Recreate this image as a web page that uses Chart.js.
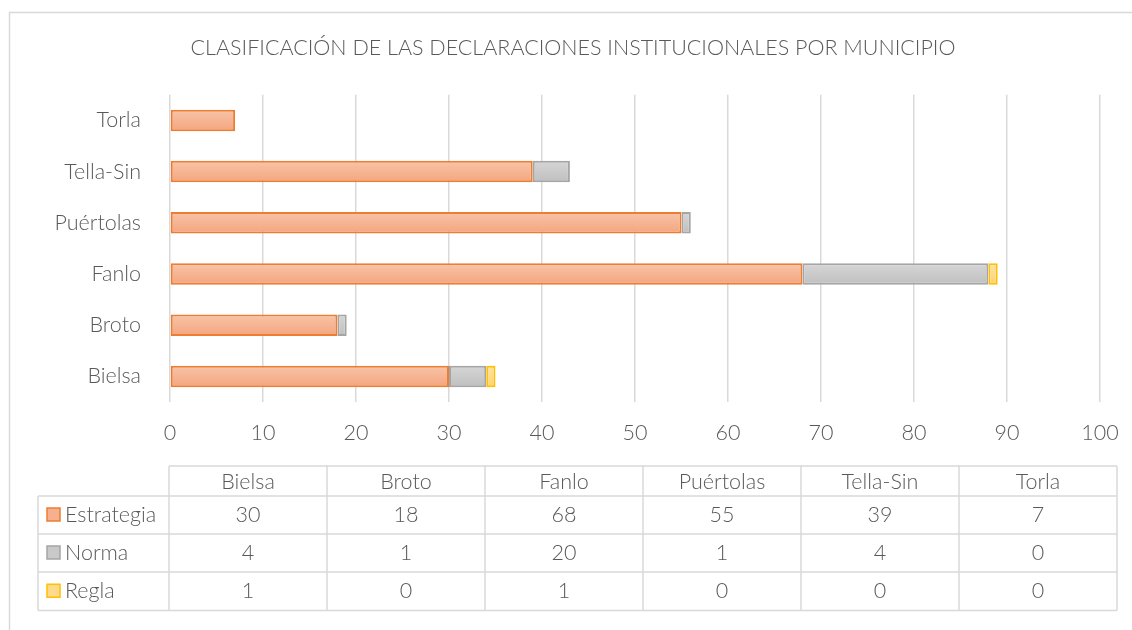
<!DOCTYPE html>
<html>
<head>
<meta charset="utf-8">
<script src="https://cdn.jsdelivr.net/npm/chart.js@4"></script>
<style>
    body { margin: 0; background: #fff; }
    #wrap { width: 1132px; height: 630px; }
</style>
</head>
<body>
<div id="wrap"><canvas id="decl-chart"></canvas></div>
<script>
const municipios = ["Bielsa", "Broto", "Fanlo", "Puértolas", "Tella-Sin", "Torla"];
const estrategia = [30, 18, 68, 55, 39, 7];
const norma = [4, 1, 20, 1, 4, 0];
const regla = [1, 0, 1, 0, 0, 0];
const xTicks = [0, 10, 20, 30, 40, 50, 60, 70, 80, 90, 100];

const FONT = "Lato, 'Open Sans', sans-serif";
const TEXT = "#595959";
const GRID = "#D9D9D9";
const SIZE = 21.5;

// vertical gradient for each bar, placed through the y scale
function barFill(top, bottom) {
    return function (c) {
        const chart = c.chart;
        if (!chart.chartArea || c.dataIndex === undefined || !chart.scales.y) return bottom;
        const y = chart.scales.y.getPixelForValue(c.dataIndex);
        const g = chart.ctx.createLinearGradient(0, y - 11, 0, y + 11);
        g.addColorStop(0, top);
        g.addColorStop(1, bottom);
        return g;
    };
}

const series = [
    { label: "Estrategia", data: estrategia, top: "#F8C5A9", bottom: "#F4A47D", line: "#ED7D31", key: "#F5B08F" },
    { label: "Norma", data: norma, top: "#D6D6D6", bottom: "#BFBFBF", line: "#A5A5A5", key: "#C9C9C9" },
    { label: "Regla", data: regla, top: "#FFE2A3", bottom: "#FFD26E", line: "#FFC000", key: "#FFDA8A" }
];

const frame = {
    id: "frame",
    beforeDraw(chart) {
        const ctx = chart.ctx;
        ctx.save();
        ctx.strokeStyle = GRID;
        ctx.lineWidth = 1.5;
        ctx.beginPath();
        ctx.moveTo(9.5, chart.height + 5);
        ctx.lineTo(9.5, 12.5);
        ctx.lineTo(chart.width + 5, 12.5);
        ctx.stroke();
        ctx.restore();
    }
};

// data table under the axis, built from the same arrays
const dataTable = {
    id: "dataTable",
    afterDraw(chart) {
        const ctx = chart.ctx;
        const left = chart.chartArea.left - 1;
        const right = 1117;
        const keyLeft = 38;
        const colW = (right - left) / municipios.length;
        const rows = [466, 496, 534, 572, 610.5];

        ctx.save();
        ctx.strokeStyle = GRID;
        ctx.lineWidth = 1.5;
        ctx.beginPath();
        ctx.moveTo(left, rows[0]); ctx.lineTo(right, rows[0]);
        for (let r = 1; r < rows.length; r++) {
            ctx.moveTo(keyLeft, rows[r]); ctx.lineTo(right, rows[r]);
        }
        ctx.moveTo(keyLeft, rows[1]); ctx.lineTo(keyLeft, rows[4]);
        for (let c = 0; c <= municipios.length; c++) {
            const x = left + c * colW;
            ctx.moveTo(x, rows[0]); ctx.lineTo(x, rows[4]);
        }
        ctx.stroke();

        ctx.fillStyle = TEXT;
        ctx.font = "300 " + SIZE + "px " + FONT;
        ctx.textBaseline = "middle";
        ctx.textAlign = "center";
        municipios.forEach((m, i) => {
            ctx.fillText(m, left + (i + 0.5) * colW, (rows[0] + rows[1]) / 2 + 1);
        });

        series.forEach((s, r) => {
            const cy = (rows[r + 1] + rows[r + 2]) / 2;
            ctx.fillStyle = s.key;
            ctx.fillRect(47, cy - 7, 13, 13);
            ctx.strokeStyle = s.line;
            ctx.lineWidth = 1.5;
            ctx.strokeRect(47, cy - 7, 13, 13);
            ctx.fillStyle = TEXT;
            ctx.textAlign = "left";
            ctx.fillText(s.label, 65, cy);
            ctx.textAlign = "center";
            s.data.forEach((v, i) => {
                ctx.fillText(String(v), left + (i + 0.5) * colW, cy);
            });
        });
        ctx.restore();
    }
};

new Chart(document.getElementById("decl-chart"), {
    type: "bar",
    data: {
        labels: municipios,
        datasets: series.map(s => ({
            label: s.label,
            data: s.data,
            backgroundColor: barFill(s.top, s.bottom),
            borderColor: s.line,
            borderWidth: 2,
            borderSkipped: false,
            barPercentage: 0.42,
            categoryPercentage: 1
        }))
    },
    options: {
        indexAxis: "y",
        responsive: true,
        maintainAspectRatio: false,
        animation: false,
        devicePixelRatio: 1,
        layout: { padding: { left: 46, right: 32, top: 0, bottom: 0 } },
        plugins: {
            legend: { display: false },
            tooltip: { enabled: false },
            title: {
                display: true,
                text: "CLASIFICACIÓN DE LAS DECLARACIONES INSTITUCIONALES POR MUNICIPIO",
                color: TEXT,
                font: { family: FONT, size: 21.5, weight: 300 },
                padding: { top: 35, bottom: 34 }
            }
        },
        scales: {
            x: {
                stacked: true,
                min: 0,
                max: 100,
                afterBuildTicks: axis => { axis.ticks = xTicks.map(v => ({ value: v })); },
                afterFit: axis => {
                    axis.height = 228;
                    axis.paddingLeft = 0;
                    axis.paddingRight = 0;
                },
                ticks: { color: TEXT, font: { family: FONT, size: SIZE, weight: 300 }, padding: 18 },
                grid: { color: GRID, lineWidth: 1.5, drawTicks: false },
                border: { display: false }
            },
            y: {
                stacked: true,
                reverse: true,
                afterFit: axis => { axis.width = 124; },
                ticks: { color: TEXT, font: { family: FONT, size: SIZE, weight: 300 }, padding: 29 },
                grid: { display: false, drawTicks: false },
                border: { display: false }
            }
        }
    },
    plugins: [frame, dataTable]
});
</script>
</body>
</html>
